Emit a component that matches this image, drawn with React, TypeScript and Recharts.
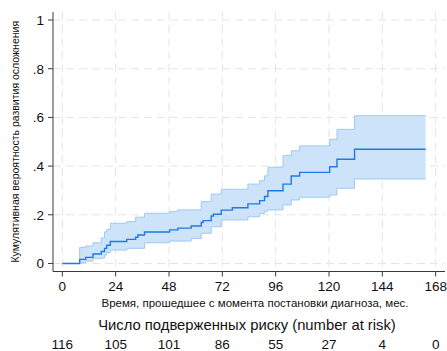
import {
  Area,
  CartesianGrid,
  ComposedChart,
  Line,
  XAxis,
  YAxis,
} from 'recharts';

// Cumulative incidence estimate with 95% band, step function (Stata-style).
const months = [
  0, 7.8, 10.5, 13.8, 17.5, 19, 20, 21.6, 29, 33, 34, 37, 48.3, 52, 58, 62.5,
  63.3, 67, 68, 71.5, 76.5, 83.5, 88.8, 91, 92.5, 99.3, 103, 106.8, 120.3,
  123.6, 131.5, 163.5,
];
const estimate = [
  0, 0.017, 0.025, 0.039, 0.049, 0.062, 0.075, 0.09, 0.099, 0.108, 0.117,
  0.129, 0.138, 0.145, 0.154, 0.168, 0.176, 0.195, 0.202, 0.219, 0.229, 0.245,
  0.258, 0.275, 0.299, 0.326, 0.359, 0.374, 0.397, 0.428, 0.469, 0.469,
];
const lower = [
  0, 0.003, 0.01, 0.02, 0.022, 0.035, 0.045, 0.055, 0.062, 0.062, 0.062,
  0.085, 0.092, 0.092, 0.103, 0.124, 0.124, 0.151, 0.151, 0.179, 0.179, 0.192,
  0.206, 0.215, 0.22, 0.24, 0.261, 0.272, 0.281, 0.309, 0.347, 0.347,
];
const upper = [
  0, 0.066, 0.072, 0.085, 0.105, 0.13, 0.14, 0.165, 0.172, 0.19, 0.19, 0.206,
  0.213, 0.22, 0.22, 0.254, 0.254, 0.285, 0.285, 0.305, 0.305, 0.326, 0.34,
  0.36, 0.395, 0.443, 0.463, 0.483, 0.51, 0.551, 0.607, 0.607,
];

const xTicks = [0, 24, 48, 72, 96, 120, 144, 168];
const atRisk = [116, 105, 101, 86, 55, 27, 4, 0];
const yTicks = [0, 0.2, 0.4, 0.6, 0.8, 1];

const FONT = '"Liberation Sans", Arial, sans-serif';
const LINE = '#1f7ae6';
const BAND_FILL = '#cde3fa';
const BAND_STROKE = '#9fc9f4';
const GRID = '#e4e4e4';
const AXIS = '#3a3a3a';

const rows = months.map((m, i) => ({
  m,
  est: estimate[i],
  band: [lower[i], upper[i]],
}));

function fmtY(v: number) {
  if (v === 0) return '0';
  if (v === 1) return '1';
  return String(v).replace(/^0/, '');
}

function XTick(props: any) {
  const { x, y, payload, index } = props;
  return (
    <g fontFamily={FONT}>
      <text x={x} y={y} dy="0.71em" textAnchor="middle" fontSize={13.5} fill="#111">
        {payload.value}
      </text>
      <text x={x} y={y + 58} dy="0.71em" textAnchor="middle" fontSize={13.5} fill="#111">
        {atRisk[index]}
      </text>
    </g>
  );
}

function XTitles(props: any) {
  const { viewBox } = props;
  const cx = viewBox.x + viewBox.width / 2;
  return (
    <g fontFamily={FONT} textAnchor="middle" fill="#111">
      <text x={cx + 6} y={viewBox.y + 35} fontSize={11.5}>
        Время, прошедшее с момента постановки диагноза, мес.
      </text>
      <text x={cx - 2} y={viewBox.y + 58} fontSize={14.8}>
        Число подверженных риску (number at risk)
      </text>
    </g>
  );
}

function YTitle(props: any) {
  const { viewBox } = props;
  const cy = viewBox.y + viewBox.height / 2;
  return (
    <text
      x={16}
      y={cy}
      transform={`rotate(-90, 16, ${cy})`}
      textAnchor="middle"
      dominantBaseline="middle"
      fontFamily={FONT}
      fontSize={10.5}
      fill="#111"
    >
      Кумулятивная вероятность развития осложнения
    </text>
  );
}

export default function App() {
  return (
    <div style={{ position: 'absolute', left: 0, top: 0, background: '#fff' }}>
      <ComposedChart
        width={447}
        height={351}
        data={rows}
        margin={{ top: 12, right: 2, left: 0, bottom: 0 }}
      >
        <CartesianGrid
          stroke={GRID}
          strokeDasharray="8 5"
          verticalValues={xTicks}
          horizontalValues={yTicks}
        />
        <XAxis
          dataKey="m"
          type="number"
          domain={[-4.2, 172.2]}
          ticks={xTicks}
          interval={0}
          height={79.5}
          stroke={AXIS}
          tickSize={5}
          tickMargin={5}
          tick={<XTick />}
          label={<XTitles />}
          allowDataOverflow
        />
        <YAxis
          type="number"
          domain={[-0.033, 1.033]}
          ticks={yTicks}
          interval={0}
          width={53}
          stroke={AXIS}
          tickSize={5}
          tickMargin={4}
          tickFormatter={fmtY}
          tick={{ fontSize: 13.5, fill: '#111', fontFamily: FONT }}
          label={<YTitle />}
          allowDataOverflow
        />
        <Area
          dataKey="band"
          type="stepAfter"
          fill={BAND_FILL}
          fillOpacity={1}
          stroke={BAND_STROKE}
          strokeWidth={1}
          isAnimationActive={false}
          dot={false}
          activeDot={false}
        />
        <Line
          dataKey="est"
          type="stepAfter"
          stroke={LINE}
          strokeWidth={1.4}
          dot={false}
          activeDot={false}
          isAnimationActive={false}
        />
      </ComposedChart>
    </div>
  );
}
